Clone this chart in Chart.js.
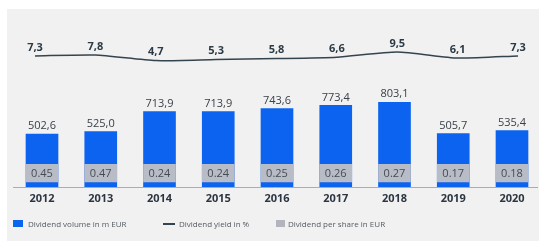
<!DOCTYPE html>
<html>
<head>
<meta charset="utf-8">
<script src="https://cdn.jsdelivr.net/npm/chart.js@4/dist/chart.umd.min.js"></script>
<style>
  html, body { margin: 0; padding: 0; background: #ffffff; width: 539px; height: 241px; overflow: hidden; }
  #panel { position: absolute; left: 7px; top: 9px; right: 0; bottom: 0; background: #f1f1f1; }
  #wrap { position: absolute; left: 0; top: 0; width: 539px; height: 241px; }
  .lg { position: absolute; font-family: "Open Sans", sans-serif; font-size: 8px; color: #555b62; line-height: 10px; white-space: nowrap; }
  .sw { position: absolute; }
</style>
</head>
<body>
<div id="panel"></div>
<div id="wrap"><canvas id="c" width="539" height="241"></canvas></div>
<div class="sw" style="left:13px;top:220px;width:10px;height:7px;background:#0b63f0;"></div>
<div class="lg" style="left:28px;top:218.5px;">Dividend volume in m EUR</div>
<div class="sw" style="left:163px;top:223px;width:12px;height:1.5px;background:#34444e;"></div>
<div class="lg" style="left:179px;top:218.5px;">Dividend yield in %</div>
<div class="sw" style="left:276px;top:220px;width:9px;height:7px;background:#b2b5bb;"></div>
<div class="lg" style="left:288px;top:218.5px;">Dividend per share in EUR</div>
<script>
const years = ["2012","2013","2014","2015","2016","2017","2018","2019","2020"];
const dividendVolume = [502.6, 525.0, 713.9, 713.9, 743.6, 773.4, 803.1, 505.7, 535.4];
const dividendPerShare = [0.45, 0.47, 0.24, 0.24, 0.25, 0.26, 0.27, 0.17, 0.18];
const dividendYield = [7.3, 7.8, 4.7, 5.3, 5.8, 6.6, 9.5, 6.1, 7.3];

// fixed band (in volume-axis units) where the per-share box sits
const BAND_LO = 48, BAND_HI = 216;

const labelPlugin = {
  id: 'labels',
  afterDatasetsDraw(chart) {
    const ctx = chart.ctx;
    ctx.save();
    ctx.textAlign = 'center';
    ctx.textBaseline = 'middle';
    const m0 = chart.getDatasetMeta(0);
    ctx.font = '11px "Open Sans", sans-serif';
    ctx.fillStyle = '#3a4048';
    m0.data.forEach((el, i) => {
      ctx.fillText(dividendVolume[i].toFixed(1).replace('.', ','), el.x, el.y - 8);
    });
    const m1 = chart.getDatasetMeta(1);
    ctx.fillStyle = '#454b53';
    m1.data.forEach((el, i) => {
      const mid = (el.y + el.base) / 2;
      ctx.fillText(dividendPerShare[i].toFixed(2), el.x, mid + 0.5);
    });
    const m2 = chart.getDatasetMeta(2);
    ctx.font = 'bold 11px "Open Sans", sans-serif';
    ctx.fillStyle = '#2b3a44';
    m2.data.forEach((el, i) => {
      ctx.fillText(dividendYield[i].toFixed(1).replace('.', ','), el.x, el.y - 8.5);
    });
    ctx.restore();
  }
};

new Chart(document.getElementById('c'), {
  data: {
    datasets: [
      {
        type: 'bar',
        label: 'Dividend volume in m EUR',
        data: dividendVolume.map((v, i) => ({ x: i, y: v })),
        backgroundColor: '#0b63f0',
        barThickness: 32,
        grouped: false,
        order: 2,
        xAxisID: 'x', yAxisID: 'y'
      },
      {
        type: 'bar',
        label: 'Dividend per share in EUR',
        data: dividendPerShare.map((v, i) => ({ x: i, y: [BAND_LO, BAND_HI] })),
        backgroundColor: '#b8bcc6',
        barThickness: 32,
        grouped: false,
        order: 1,
        xAxisID: 'x', yAxisID: 'y'
      },
      {
        type: 'line',
        label: 'Dividend yield in %',
        data: dividendYield.map((v, i) => ({ x: i, y: v })),
        borderColor: '#34444e',
        borderWidth: 1.5,
        pointRadius: 0,
        tension: 0.2,
        fill: false,
        order: 0,
        xAxisID: 'xl', yAxisID: 'y2'
      }
    ]
  },
  options: {
    responsive: false,
    animation: false,
    events: [],
    layout: { padding: { left: 13, right: 2, top: 15, bottom: 30.8 } },
    plugins: { legend: { display: false }, tooltip: { enabled: false } },
    scales: {
      x: {
        type: 'linear',
        offset: false,
        min: -0.4936, max: 8.4255,
        afterBuildTicks(scale) { scale.ticks = years.map((_, i) => ({ value: i })); },
        ticks: {
          padding: 5,
          autoSkip: false,
          maxRotation: 0,
          color: '#2b3640',
          font: { family: '"Open Sans", sans-serif', size: 11, weight: 'bold' },
          callback: (v) => years[v] ?? ''
        },
        grid: { display: false, drawTicks: false, offset: false },
        border: { display: true, color: '#a9adb3', width: 1 }
      },
      xl: { type: 'linear', display: false, offset: false, min: -0.3644, max: 8.3147 },
      y: { display: false, min: 0, max: 1630 },
      y2: { display: false, min: -65.5, max: 30 }
    }
  },
  plugins: [labelPlugin]
});
</script>
</body>
</html>
